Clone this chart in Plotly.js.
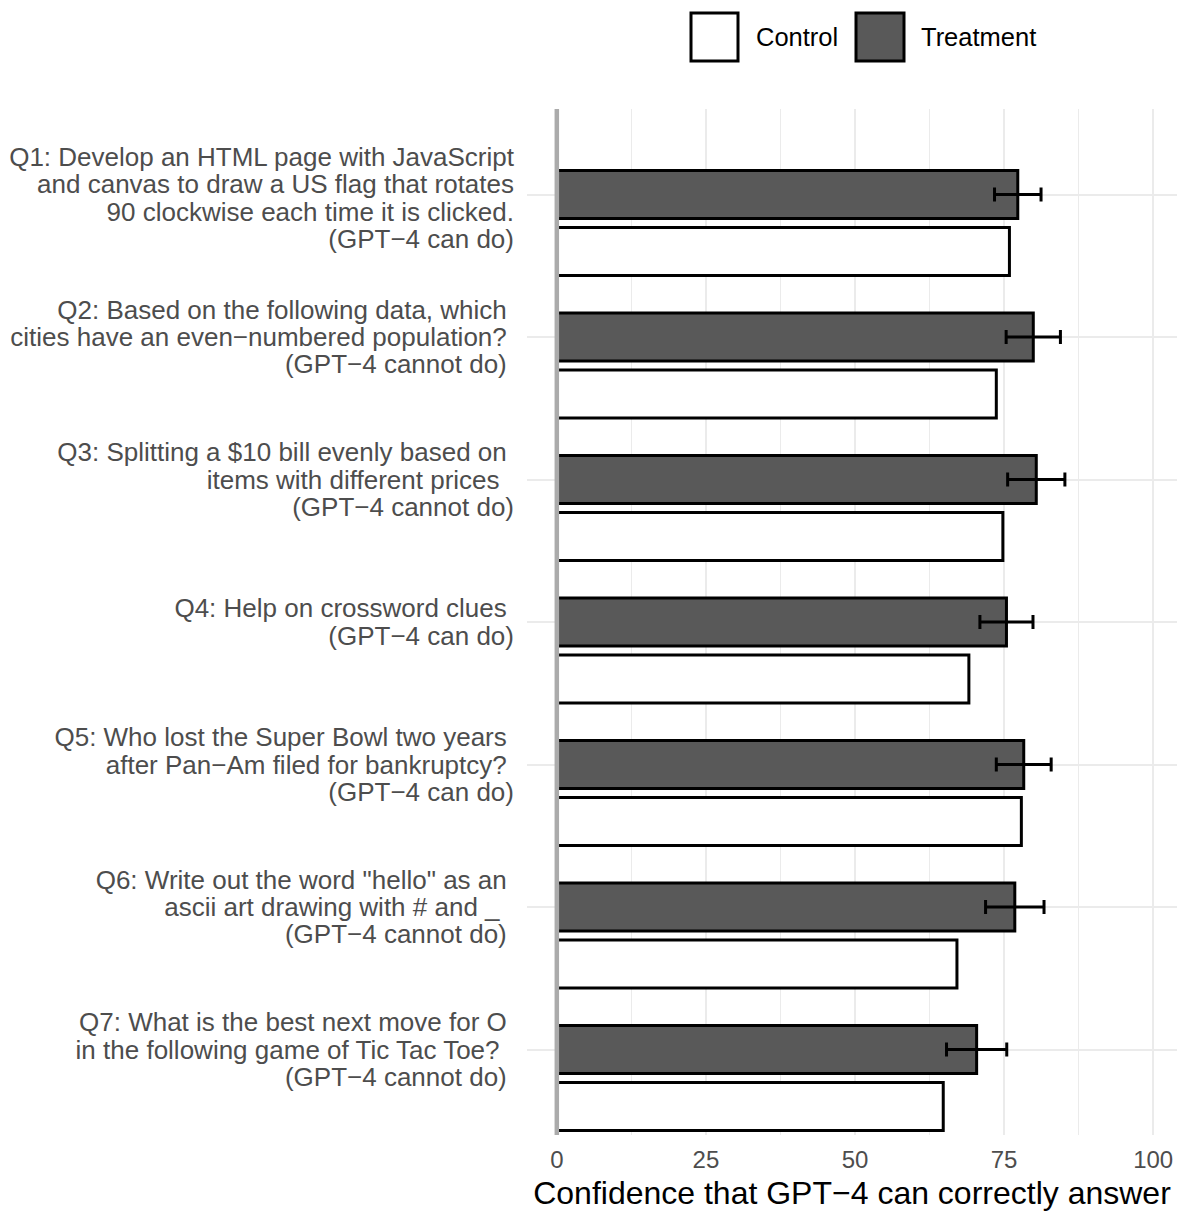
<!DOCTYPE html>
<html>
<head>
<meta charset="utf-8">
<script src="https://cdn.plot.ly/plotly-3.0.1.min.js"></script>
<style>
  html, body { margin: 0; padding: 0; background: #ffffff; overflow: hidden; }
  #chart { width: 1177px; height: 1211px; }
</style>
</head>
<body>
<div id="chart"></div>
<script>
// ---------- data ----------
const NB = "\u00a0";
const questions = [
  "Q1: Develop an HTML page with JavaScript<br>and canvas to draw a US flag that rotates<br>90 clockwise each time it is clicked.<br>(GPT\u22124 can do)",
  "Q2: Based on the following data, which" + NB + "<br>cities have an even\u2212numbered population?" + NB + "<br>(GPT\u22124 cannot do)" + NB,
  "Q3: Splitting a $10 bill evenly based on" + NB + "<br>items with different prices" + NB + NB + "<br>(GPT\u22124 cannot do)",
  "Q4: Help on crossword clues" + NB + "<br>(GPT\u22124 can do)",
  "Q5: Who lost the Super Bowl two years" + NB + "<br>after Pan\u2212Am filed for bankruptcy?" + NB + "<br>(GPT\u22124 can do)",
  "Q6: Write out the word \"hello\" as an" + NB + "<br>ascii art drawing with # and _" + NB + NB + "<br>(GPT\u22124 cannot do)" + NB,
  "Q7: What is the best next move for O" + NB + "<br>in the following game of Tic Tac Toe?" + NB + NB + "<br>(GPT\u22124 cannot do)" + NB
];
const seriesNames = ["Control", "Treatment"];
const controlValues   = [75.9, 73.7, 74.8, 69.1, 77.9, 67.1, 64.8];
const treatmentValues = [77.3, 79.9, 80.4, 75.4, 78.3, 76.8, 70.4];
const treatmentErrors = [3.9, 4.55, 4.8, 4.45, 4.6, 4.9, 5.05];
const xTickValues = [0, 25, 50, 75, 100];
const xTitle = "Confidence that GPT\u22124 can correctly answer";

// ---------- styles ----------
const TREAT_FILL = "#595959";
const CONTROL_FILL = "#ffffff";
const GRID = "#EBEBEB";
const TICK_COLOR = "#4D4D4D";
const FONT = "Liberation Sans, Arial, Helvetica, sans-serif";
const BAR_W = 0.336;
const LABEL_LINE_SPACING = 1.05; // em, tighter than Plotly's default 1.3

const traces = [
  {
    type: "bar", orientation: "h", name: seriesNames[0],
    y: questions, x: controlValues,
    width: BAR_W, offset: 0.4 - BAR_W / 2,
    marker: { color: CONTROL_FILL, line: { color: "#000000", width: 3 } },
    showlegend: false, hoverinfo: "x"
  },
  {
    type: "bar", orientation: "h", name: seriesNames[1],
    y: questions, x: treatmentValues,
    width: BAR_W, offset: -BAR_W / 2,
    marker: { color: TREAT_FILL, line: { color: "#000000", width: 3 } },
    error_x: { type: "data", array: treatmentErrors, visible: true,
               color: "#000000", thickness: 3, width: 7 },
    showlegend: false, hoverinfo: "x"
  }
];

// plot area: x from 527 to 1177 px, y from 109 to 1135 px
const PL = 527, PR = 1177, PT = 109, PB = 1135;
const px = v => (v - PL) / (PR - PL);
const py = v => (PB - v) / (PB - PT);

const shapes = [
  { type: "line", xref: "x", yref: "paper", x0: 0, x1: 0, y0: 0, y1: 1,
    line: { color: "#ABABAB", width: 4.5 }, layer: "above" },
  { type: "rect", xref: "paper", yref: "paper", x0: px(691), x1: px(738), y0: py(61), y1: py(13),
    fillcolor: CONTROL_FILL, line: { color: "#000000", width: 3 } },
  { type: "rect", xref: "paper", yref: "paper", x0: px(856), x1: px(904), y0: py(61), y1: py(13),
    fillcolor: TREAT_FILL, line: { color: "#000000", width: 3 } }
];

const annotations = [
  { xref: "paper", yref: "paper", x: px(754), y: py(37), xanchor: "left", yanchor: "middle",
    text: seriesNames[0], showarrow: false, font: { family: FONT, size: 25.5, color: "#000000" } },
  { xref: "paper", yref: "paper", x: px(919), y: py(37), xanchor: "left", yanchor: "middle",
    text: seriesNames[1], showarrow: false, font: { family: FONT, size: 25.5, color: "#000000" } }
];

const layout = {
  width: 1177, height: 1211, autosize: false,
  margin: { l: PL, r: 1177 - PR, t: PT, b: 1211 - PB, pad: 0 },
  paper_bgcolor: "#ffffff", plot_bgcolor: "#ffffff",
  font: { family: FONT },
  barmode: "overlay",
  showlegend: false,
  xaxis: {
    range: [-5, 104],
    tickvals: xTickValues, ticktext: xTickValues.map(String),
    showgrid: true, gridcolor: GRID, gridwidth: 2.2,
    minor: { tick0: 12.5, dtick: 25, showgrid: true, gridcolor: GRID, gridwidth: 1.1 },
    zeroline: false, showline: false, ticks: "",
    ticklabelstandoff: 8,
    tickfont: { family: FONT, size: 24, color: TICK_COLOR },
    title: { text: xTitle, font: { family: FONT, size: 32, color: "#000000" }, standoff: 10 }
  },
  yaxis: {
    type: "category", categoryorder: "array", categoryarray: questions,
    range: [6.6, -0.6],
    showgrid: true, gridcolor: GRID, gridwidth: 2.2,
    zeroline: false, showline: false, ticks: "",
    ticklabelstandoff: 12,
    tickfont: { family: FONT, size: 26, color: TICK_COLOR }
  },
  shapes: shapes,
  annotations: annotations
};

function tightenTickLines(gd) {
  try {
    gd.querySelectorAll(".yaxislayer-above .ytick text").forEach(function (t) {
      const lines = t.querySelectorAll("tspan.line");
      const n = lines.length;
      if (n < 2) return;
      const base = (n - 1) * (1.3 - LABEL_LINE_SPACING) / 2 + Math.max(0, n - 3) * 0.13;
      lines.forEach(function (ln, k) {
        ln.setAttribute("dy", (base + k * LABEL_LINE_SPACING) + "em");
      });
    });
  } catch (e) { /* leave default spacing */ }
}

Plotly.newPlot("chart", traces, layout, { displayModeBar: false }).then(function (gd) {
  tightenTickLines(gd);
  gd.on("plotly_afterplot", function () { tightenTickLines(gd); });
});
</script>
</body>
</html>
